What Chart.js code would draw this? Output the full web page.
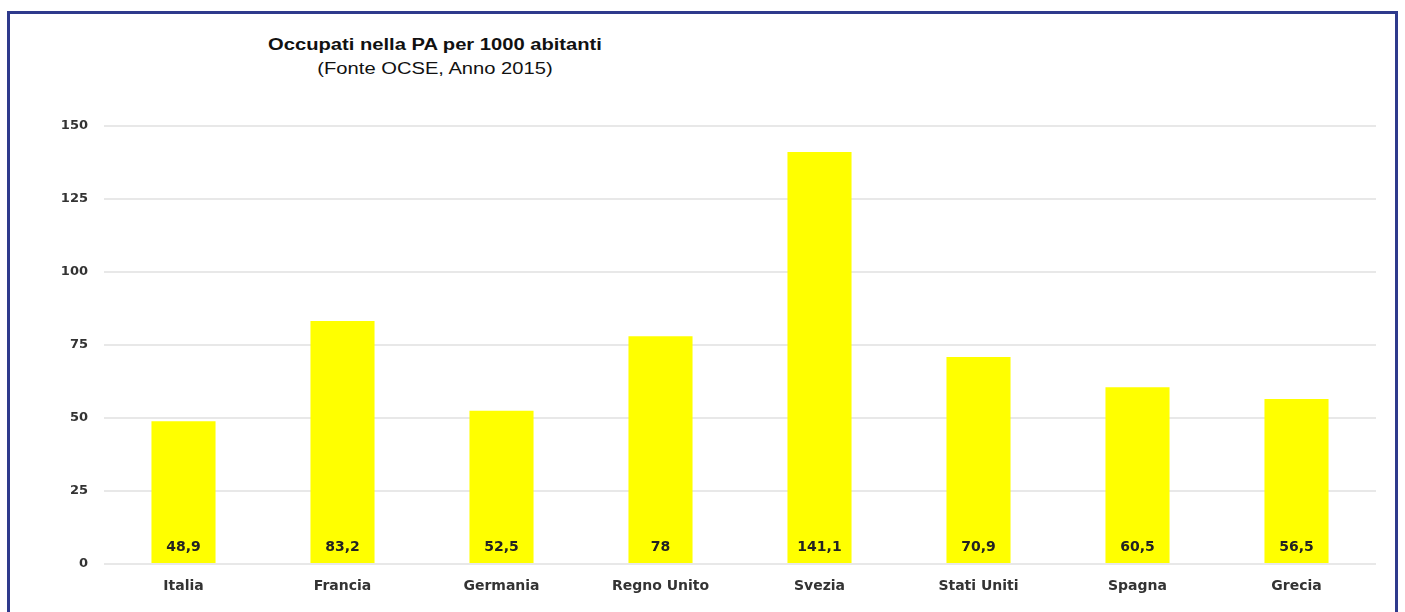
<!DOCTYPE html>
<html>
<head>
<meta charset="utf-8">
<script src="https://cdn.jsdelivr.net/npm/chart.js@4"></script>
<style>
  html, body { margin: 0; padding: 0; background: #fff; overflow: hidden; }
  #frame {
    position: absolute; left: 7px; top: 11px; width: 1391px; height: 620px;
    border: 3px solid #2e3a8c; box-sizing: border-box;
  }
  #title {
    position: absolute; left: 235px; top: 33px; width: 400px;
    text-align: center; font-family: "Liberation Sans", Arial, sans-serif;
    font-size: 16px; color: #111; line-height: 24px;
    transform: scaleX(1.26); transform-origin: 50% 0;
  }
  #title b { display: block; }
  canvas { position: absolute; left: 0; top: 0; }
</style>
</head>
<body>
<div id="frame"></div>
<div id="title"><b>Occupati nella PA per 1000 abitanti</b>(Fonte OCSE, Anno 2015)</div>
<canvas id="chart" width="1405" height="612"></canvas>
<script>
const paesi = ['Italia', 'Francia', 'Germania', 'Regno Unito', 'Svezia', 'Stati Uniti', 'Spagna', 'Grecia'];
const occupati = [48.9, 83.2, 52.5, 78, 141.1, 70.9, 60.5, 56.5];
const yTicks = [0, 25, 50, 75, 100, 125, 150];

const fontFamily = '"DejaVu Sans", "Liberation Sans", Arial, sans-serif';

// etichette dei valori in basso dentro le barre
const valueLabels = {
    id: 'valueLabels',
    afterDatasetsDraw(chart) {
        const ctx = chart.ctx;
        const meta = chart.getDatasetMeta(0);
        ctx.save();
        ctx.font = 'bold 14px ' + fontFamily;
        ctx.fillStyle = '#222';
        ctx.textAlign = 'center';
        ctx.textBaseline = 'middle';
        meta.data.forEach((bar, i) => {
            const txt = String(occupati[i]).replace('.', ',');
            ctx.fillText(txt, bar.x, chart.chartArea.bottom - 17);
        });
        ctx.restore();
    }
};

const ctx = document.getElementById('chart').getContext('2d');
new Chart(ctx, {
    type: 'bar',
    data: {
        labels: paesi,
        datasets: [{
            data: occupati,
            backgroundColor: '#ffff00',
            categoryPercentage: 1,
            barPercentage: 0.403
        }]
    },
    options: {
        responsive: false,
        animation: false,
        layout: { padding: { left: 40, right: 29, top: 126, bottom: 0 } },
        plugins: { legend: { display: false }, tooltip: { enabled: false } },
        scales: {
            x: {
                grid: { display: false },
                border: { display: false },
                ticks: { color: '#333', font: { family: fontFamily, size: 14, weight: 'bold' }, padding: 6 },
                afterFit(s) { s.height = 48; }
            },
            y: {
                min: 0, max: 150,
                afterBuildTicks(s) { s.ticks = yTicks.map(v => ({ value: v })); },
                grid: { color: '#e8e8e8', lineWidth: 2, drawTicks: false },
                border: { display: false },
                ticks: { color: '#333', font: { family: fontFamily, size: 13, weight: 'bold' }, padding: 16 },
                afterFit(s) { s.width = 64; }
            }
        }
    },
    plugins: [valueLabels]
});
</script>
</body>
</html>
